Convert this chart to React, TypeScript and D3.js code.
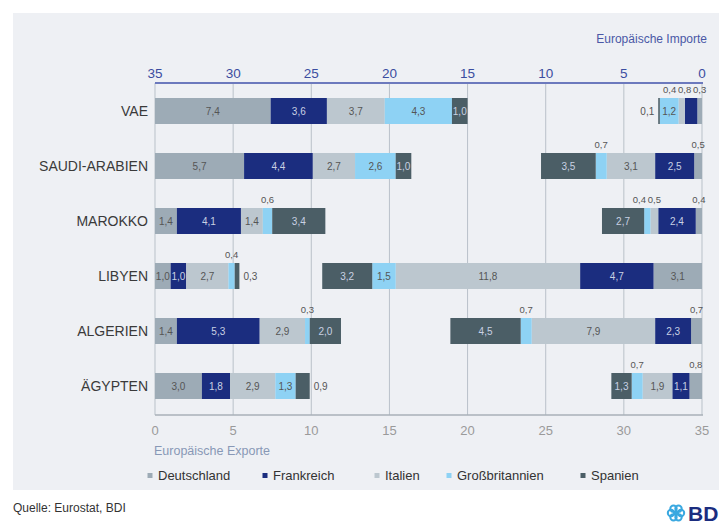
import React from "react";
import * as d3 from "d3";

const countries = ["VAE", "SAUDI-ARABIEN", "MAROKKO", "LIBYEN", "ALGERIEN", "ÄGYPTEN"];
const series = ["Deutschland", "Frankreich", "Italien", "Großbritannien", "Spanien"];
const colors = ["#9dabb6", "#1b2d7f", "#bcc7cf", "#8ed2f4", "#4b5e66"];

// Exports (left part, bottom axis) per country, order = series
const exportDeutschland = [7.4, 5.7, 1.4, 1.0, 1.4, 3.0];
const exportFrankreich = [3.6, 4.4, 4.1, 1.0, 5.3, 1.8];
const exportItalien = [3.7, 2.7, 1.4, 2.7, 2.9, 2.9];
const exportGB = [4.3, 2.6, 0.6, 0.4, 0.3, 1.3];
const exportSpanien = [1.0, 1.0, 3.4, 0.3, 2.0, 0.9];

// Imports (right part, top axis reversed)
const importDeutschland = [0.3, 0.5, 0.4, 3.1, 0.7, 0.8];
const importFrankreich = [0.8, 2.5, 2.4, 4.7, 2.3, 1.1];
const importItalien = [0.4, 3.1, 0.5, 11.8, 7.9, 1.9];
const importGB = [1.2, 0.7, 0.4, 1.5, 0.7, 0.7];
const importSpanien = [0.1, 3.5, 2.7, 3.2, 4.5, 1.3];

const ticks = [0, 5, 10, 15, 20, 25, 30, 35];

const FONT = "'Liberation Sans', Arial, sans-serif";
const fmt = (v: number) => v.toFixed(1).replace(".", ",");

export default function App() {
  const W = 719, H = 527;
  const xE = d3.scaleLinear().domain([0, 35]).range([155, 702]);
  const xI = d3.scaleLinear().domain([0, 35]).range([702, 155]);
  const y = d3.scalePoint<string>().domain(countries).range([111, 386]);
  const bh = 26;
  const top = 83, bottom = 415;

  const exportsData = [exportDeutschland, exportFrankreich, exportItalien, exportGB, exportSpanien];
  const importsData = [importDeutschland, importFrankreich, importItalien, importGB, importSpanien];

  const toRows = (data: number[][]) =>
    countries.map((c, i) => {
      const obj: any = { country: c };
      series.forEach((s, k) => (obj[s] = data[k][i]));
      return obj;
    });
  const stackE = d3.stack().keys(series)(toRows(exportsData));
  const stackI = d3.stack().keys(series)(toRows(importsData));

  const darkSeries = new Set([1, 4]);

  const renderStack = (stack: any[], scale: any, isImport: boolean) => {
    const rects: any[] = [];
    const labels: any[] = [];
    countries.forEach((c, i) => {
      const cy = y(c)!;
      const above: { x: number; v: number; key: string }[] = [];
      stack.forEach((layer, k) => {
        const d = layer[i];
        const v = Math.round((d[1] - d[0]) * 10) / 10;
        const xa = scale(d[0]);
        const xb = scale(d[1]);
        const x0 = Math.min(xa, xb);
        const w = Math.abs(xb - xa);
        const last = k === series.length - 1;
        const key = `${isImport ? "i" : "e"}-${k}-${i}`;
        rects.push(<rect key={key} x={x0} y={cy - bh / 2} width={w} height={bh} fill={colors[k]} />);
        if (v >= 1.0) {
          labels.push(
            <text key={key + "l"} x={x0 + w / 2} y={cy + 4} textAnchor="middle" fontSize={10}
              fill={darkSeries.has(k) ? "#c9d1e3" : "#555"}>{fmt(v)}</text>
          );
        } else if (last) {
          labels.push(
            <text key={key + "l"} x={isImport ? x0 - 4 : x0 + w + 4} y={cy + 4}
              textAnchor={isImport ? "end" : "start"} fontSize={10} fill="#555">{fmt(v)}</text>
          );
        } else {
          above.push({ x: x0 + w / 2, v, key: key + "l" });
        }
      });
      // resolve overlaps of labels above bars
      const gap = 15;
      if (isImport) {
        above.sort((a, b) => b.x - a.x);
        for (let j = 1; j < above.length; j++) {
          if (above[j - 1].x - above[j].x < gap) above[j].x = above[j - 1].x - gap;
        }
      } else {
        above.sort((a, b) => a.x - b.x);
        for (let j = 1; j < above.length; j++) {
          if (above[j].x - above[j - 1].x < gap) above[j].x = above[j - 1].x + gap;
        }
      }
      above.forEach((a) =>
        labels.push(
          <text key={a.key} x={a.x} y={cy - bh / 2 - 5} textAnchor="middle" fontSize={9.5} fill="#555">{fmt(a.v)}</text>
        )
      );
    });
    return [...rects, ...labels];
  };

  const legendX = [150, 265, 377, 449, 583];

  return (
    <svg width={W} height={H} style={{ position: "absolute", left: 0, top: 0 }} fontFamily={FONT}>
      <rect x={0} y={0} width={W} height={H} fill="#ffffff" />
      <rect x={13} y={13} width={W - 13} height={477} fill="#eef0f4" />

      <text x={707} y={43} textAnchor="end" fontSize={12} fill="#4a58a6">Europäische Importe</text>

      {/* gridlines */}
      {ticks.map((t) => (
        <line key={"g" + t} x1={xE(t)} x2={xE(t)} y1={top} y2={bottom} stroke="#b9c1c9" strokeWidth={1} />
      ))}
      <line x1={155} x2={703} y1={bottom} y2={bottom} stroke="#a9b1b9" strokeWidth={1.5} />

      {/* top axis */}
      <line x1={155} x2={703} y1={top} y2={top} stroke="#6c79bd" strokeWidth={2} />
      {ticks.map((t) => (
        <text key={"tt" + t} x={xI(t)} y={78} textAnchor="middle" fontSize={13.5} fill="#3b4da0">{t}</text>
      ))}

      {/* bars */}
      {renderStack(stackE, xE, false)}
      {renderStack(stackI, xI, true)}

      {/* category labels */}
      {countries.map((c) => (
        <text key={c} x={148} y={y(c)! + 5} textAnchor="end" fontSize={14} fill="#3a3a3a">{c}</text>
      ))}

      {/* bottom axis */}
      {ticks.map((t) => (
        <text key={"bt" + t} x={xE(t)} y={435} textAnchor="middle" fontSize={13} fill="#9a9a9a">{t}</text>
      ))}
      <text x={154} y={455} fontSize={12.5} fill="#8898b6">Europäische Exporte</text>

      {/* legend */}
      {series.map((s, k) => (
        <g key={s}>
          <rect x={legendX[k] - 2.5} y={473} width={5} height={5} fill={colors[k]} />
          <text x={legendX[k] + 8} y={480} fontSize={13} fill="#333">{s}</text>
        </g>
      ))}

      <text x={13} y={512} fontSize={12} fill="#333">Quelle: Eurostat, BDI</text>

      {/* logo */}
      <g transform="translate(676,513)">
        {d3.range(6).map((i) => {
          const a = (i * Math.PI) / 3;
          return <circle key={i} cx={Math.cos(a) * 5} cy={Math.sin(a) * 5} r={3.2} fill="none" stroke="#3aa8e0" strokeWidth={2} />;
        })}
        <circle cx={0} cy={0} r={2} fill="#3aa8e0" />
      </g>
      <text x={688} y={521} fontSize={21} fontWeight="bold" fill="#1b2d7f">BD</text>
    </svg>
  );
}
